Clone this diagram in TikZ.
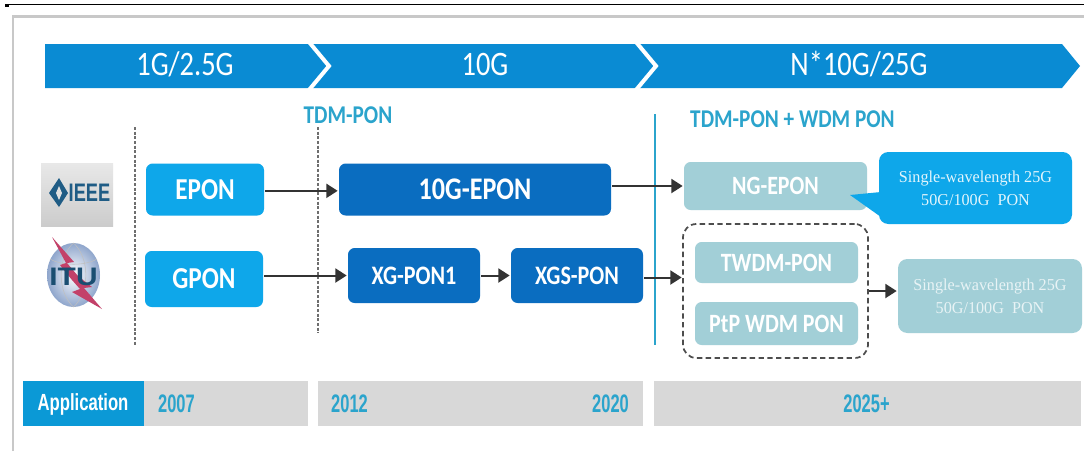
\documentclass[tikz,border=0pt]{standalone}
\usepackage{fontspec}
\usepackage{graphicx}
\setmainfont[FakeStretch=0.83]{Carlito}
\newfontfamily\serifface[FakeStretch=0.97]{Liberation Serif}
\newfontfamily\arialface{Liberation Sans}
\usetikzlibrary{arrows.meta,calc}
\definecolor{bannerblue}{HTML}{0A8BD3}
\definecolor{lightblue}{HTML}{0EA7EA}
\definecolor{darkblue}{HTML}{0A6DC0}
\definecolor{paleteal}{HTML}{A2CFD7}
\definecolor{labelteal}{HTML}{2BA4CC}
\definecolor{bargray}{HTML}{D8D8D8}
\definecolor{appblue}{HTML}{0B99D6}
\definecolor{framegray}{HTML}{C8C8C8}
\definecolor{dashgray}{HTML}{6E6E6E}
\definecolor{navy}{HTML}{1F5C85}
\definecolor{boltred}{HTML}{B81F4E}
\definecolor{globeedge}{HTML}{8FA6CC}
\tikzset{
  x=0.75pt,y=-0.75pt,
  sz/.style 2 args={minimum width=#1*0.75pt,minimum height=#2*0.75pt,inner sep=0pt},
  pill/.style={rounded corners=5pt,outer sep=1pt,text=white,font=\fontsize{22.8}{24}\selectfont\bfseries},
  lightbox/.style={pill,fill=lightblue},
  darkbox/.style={pill,fill=darkblue},
  palebox/.style={pill,fill=paleteal,font=\fontsize{19.8}{22}\selectfont\bfseries},
  smallbox/.style={darkbox,font=\fontsize{20}{22}\selectfont\bfseries},
  serifbox/.style={rounded corners=7pt,outer sep=1pt,align=center,text=white,font=\fontsize{12.5}{17.3}\selectfont\serifface},
  flow/.style={draw=black!80,line width=1.5pt,-{Triangle[length=8.5pt,width=10.5pt]}},
  grid line/.style={draw=dashgray,line width=0.8pt,dash pattern=on 2.2pt off 1.3pt},
  bannertext/.style={text=white,font=\fontsize{25.7}{28}\selectfont},
  heading/.style={text=labelteal,font=\fontsize{19.2}{22}\selectfont\bfseries},
  year/.style={text=labelteal,font=\fontsize{19}{22}\selectfont\bfseries\arialface},
}
\newcommand{\narrowed}[1]{\scalebox{0.65}[1]{#1}}
\begin{document}
\begin{tikzpicture}
\useasboundingbox (0,0) rectangle (1084,451);
\fill[white] (0,0) rectangle (1084,451);
% page rules
\draw[black,line width=0.8pt] (5,4.5) -- (1084,4.5);
\fill[black] (5,4) rectangle (9,6.5);
\draw[framegray,line width=1.6pt] (13,451) -- (13,16.5) -- (1084,16.5);
% banner
\fill[bannerblue] (45,44) -- (1062,44) -- (1080,66) -- (1062,88) -- (45,88) -- cycle;
\draw[white,line width=3pt] (309,42) -- (329,66) -- (309,90);
\draw[white,line width=3pt] (636,42) -- (656,66) -- (636,90);
\node[bannertext] (b1) at (185,64) {1G/2.5G};
\node[bannertext] (b2) at (485,64) {10G};
\node[bannertext] (b3) at (859,64) {N*10G/25G};
% headings
\node[heading] (h1) at (348,115) {TDM-PON};
\node[heading] (h2) at (792.5,119) {TDM-PON + WDM PON};
% vertical guides
\coordinate (g1a) at (135,127); \coordinate (g1b) at (135,346);
\coordinate (g2a) at (318,127); \coordinate (g2b) at (318,333);
\coordinate (g3a) at (655,114); \coordinate (g3b) at (655,345);
\draw[grid line] (g1a) -- (g1b);
\draw[grid line] (g2a) -- (g2b);
\draw[labelteal,line width=0.9pt] (g3a) -- (g3b);
% IEEE logo
\shade[top color=black!9,bottom color=black!20] (41,163) rectangle (113,226);
\fill[navy] (59,178) -- (68,193) -- (59,207) -- (49,193) -- cycle;
\fill[black!12] (59,186) -- (62,193) -- (59,200) -- (56,193) -- cycle;
\node[text=navy,font=\fontsize{19}{20}\selectfont\bfseries\arialface,inner sep=0pt] (ieee) at (89.5,193) {\scalebox{0.72}[1]{IEEE}};
% ITU logo
\shade[inner color=white,outer color=globeedge] (73.5,275) ellipse (26.5 and 32);
\draw[black!25,line width=0.4pt] (73.5,243) .. controls (57,258) and (57,292) .. (73.5,307)
  (73.5,243) .. controls (90,258) and (90,292) .. (73.5,307)
  (50,259) .. controls (62,266) and (85,266) .. (97,259);
\fill[boltred!85!white] (52,237) -- (74,262) -- (67,263) -- (78,276) -- (92,287) -- (84,288) -- (102,309) -- (72,292) -- (80,289) -- (72,280) -- (60,265) -- (66,263) -- cycle;
\node[text=navy!85!black,font=\fontsize{19}{20}\selectfont\bfseries\arialface,inner sep=0pt] (itu) at (73.5,277) {\scalebox{1.18}[1]{ITU}};
% boxes
\node[lightbox,sz={118}{52}] (epon) at (205,189.5) {EPON};
\node[lightbox,sz={118}{56}] (gpon) at (204,279) {GPON};
\node[darkbox,sz={272}{52},font=\fontsize{23.6}{25}\selectfont\bfseries] (ten) at (475,189.5) {10G-EPON};
\node[smallbox,sz={132}{55}] (xg) at (414,275.5) {XG-PON1};
\node[smallbox,sz={132}{55}] (xgs) at (577,275.5) {XGS-PON};
\node[palebox,sz={183}{48}] (ng) at (775.5,186) {NG-EPON};
\node[palebox,sz={163}{41}] (twdm) at (776.5,262.5) {TWDM-PON};
\node[palebox,sz={163}{43}] (ptp) at (776.5,323.5) {PtP WDM PON};
\node[draw=dashgray!70!black,line width=1.3pt,dash pattern=on 4pt off 2.6pt,rounded corners=10pt,sz={185}{134},outer sep=1pt] (dash) at (775.5,291) {};
% callouts
\fill[lightblue] (850,195) -- (881,192) -- (881,217) -- cycle;
\node[serifbox,fill=lightblue,sz={193}{72},text=white!88!lightblue] (call) at (975.5,188) {Single-wavelength 25G\\50G/100G\ \ PON};
\node[serifbox,fill=paleteal,sz={184}{74},text=white!75!paleteal] (single) at (990,296) {Single-wavelength 25G\\50G/100G\ \ PON};
% connectors
\draw[flow] ([yshift=-1pt]epon.east) -- ([yshift=-1pt]ten.west);
\draw[flow] (gpon.east |- xg.west) -- (xg.west);
\draw[flow] (xg.east) -- (xgs.west);
\draw[flow] (ten.east |- ng.west) -- (ng.west);
\draw[flow] ([yshift=-1.5pt]xgs.east) -- ([yshift=-1.5pt]xgs.east -| dash.west);
\draw[flow] (dash.east) -- (dash.east -| single.west);
% timeline
\fill[appblue] (23,381) rectangle (144,426);
\node[text=white,font=\fontsize{17.5}{20}\selectfont\bfseries\arialface,inner sep=0pt] (app) at (83,404) {\scalebox{0.715}[1]{Application}};
\fill[bargray] (144,381) rectangle (308,426);
\fill[bargray] (318,381) rectangle (643,426);
\fill[bargray] (654,381) rectangle (1081,426);
\node[year] (y1) at (176.5,404) {\narrowed{2007}};
\node[year] (y2) at (349.5,404) {\narrowed{2012}};
\node[year] (y3) at (610.5,404) {\narrowed{2020}};
\node[year] (y4) at (866.5,404) {\narrowed{2025+}};
\end{tikzpicture}
\end{document}
